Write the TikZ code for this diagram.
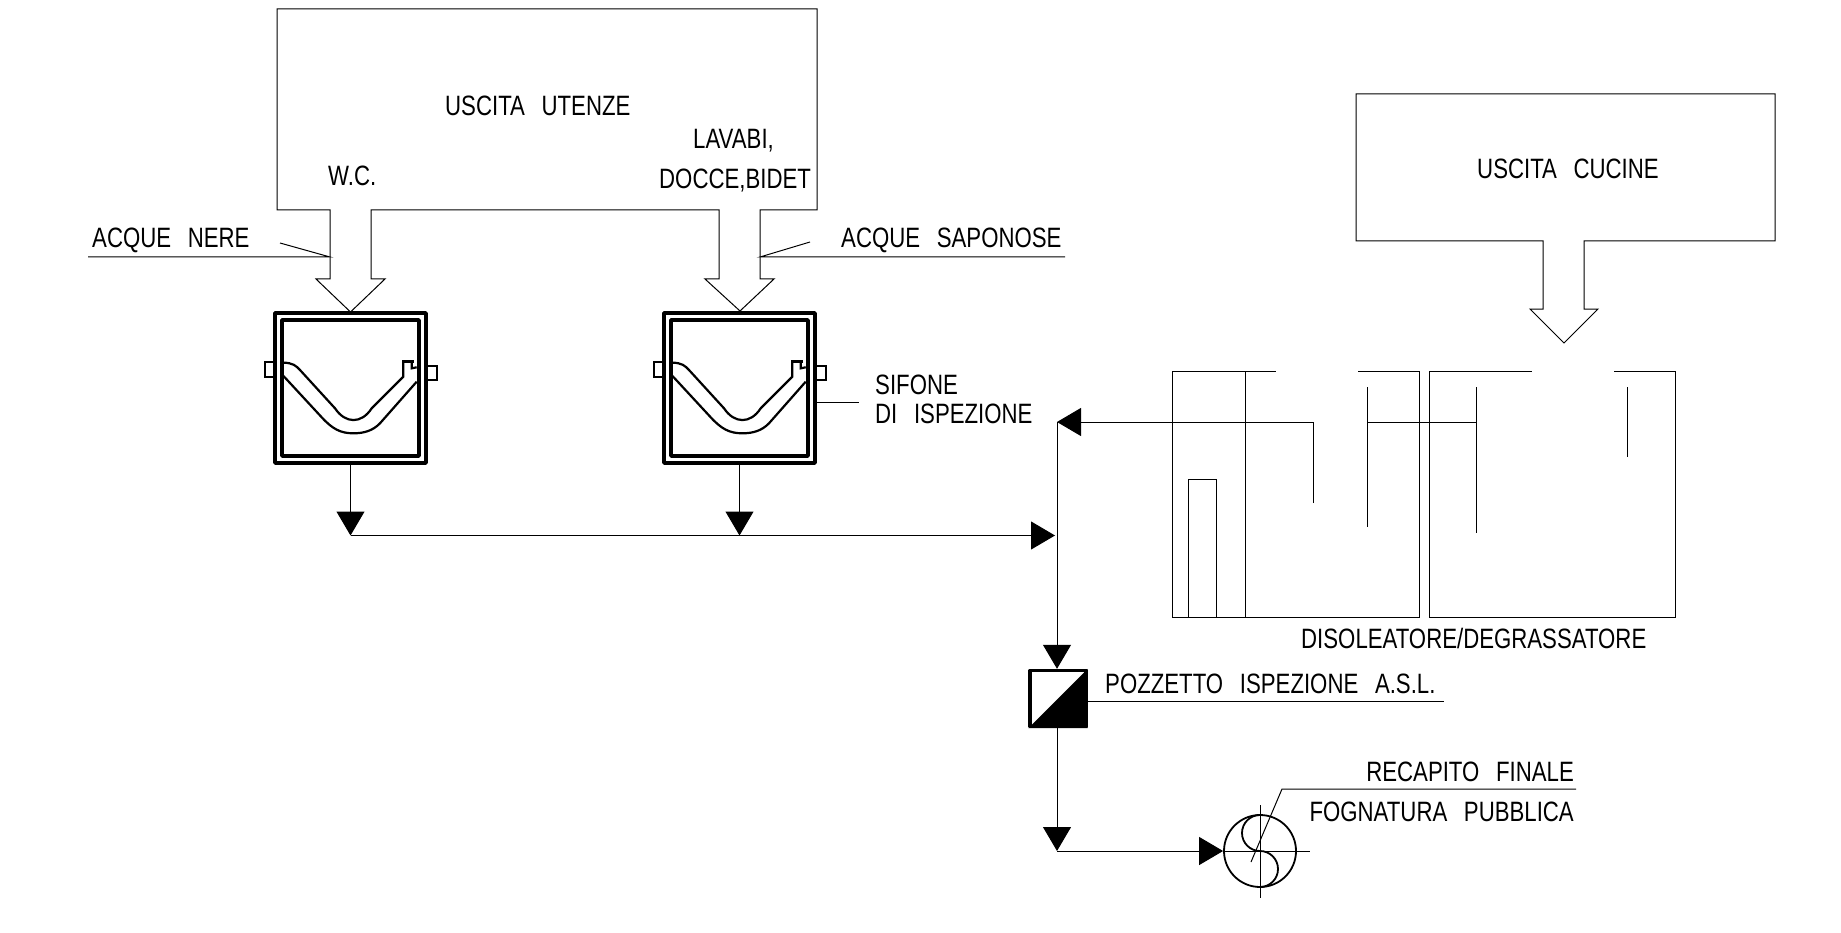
\documentclass[tikz,border=0pt]{standalone}
\usepackage{fontspec}
\setmainfont[FakeStretch=0.793,WordSpace=2.7]{Liberation Sans}
\usetikzlibrary{arrows.meta}

\begin{document}
\begin{tikzpicture}[
    x=1pt, y=-1pt,
    outline/.style={draw=black, line width=1pt, line join=miter},
    tag/.style={anchor=base west, inner sep=0pt, font=\fontsize{28}{28}\selectfont},
    tag right/.style={anchor=base east, inner sep=0pt, font=\fontsize{28}{28}\selectfont},
    flow/.style={draw=black, line width=1pt, -{Triangle[length=24pt, width=28pt]}},
    leader/.style={draw=black, line width=1pt},
    trap/.pic={
        \node[draw, line width=3.5pt, line join=round, minimum width=151pt, minimum height=150pt, inner sep=0pt] (-box) at (0,0) {};
        \draw[line width=3.5pt, line join=round] (-68.5,-68) rectangle (68.5,68);
        \draw[line width=2pt] (-85.5,-26) rectangle (-75.5,-11);
        \draw[line width=2pt] (75.5,-22) rectangle (86.5,-8);
        \draw[line width=2.2pt] (-67,-25.3) .. controls (-58,-25.3) and (-54,-22) .. (-50.5,-18) -- (-15.5,20.3)
            .. controls (-5,36) and (11,36) .. (21.2,20.3) -- (52.8,-11.3) -- (52.8,-25);
        \draw[line width=2.2pt] (-67,-12) -- (-28.8,29.3) .. controls (-18,41) and (-10,45.3) .. (2.8,45.3)
            .. controls (13,45.3) and (22,43) .. (29.5,35.3) -- (66.2,-6.3);
        \draw[line width=3pt] (51.5,-27) -- (63,-27);
        \draw[line width=2.2pt] (61.2,-27) -- (61.2,-19.7) -- (66.2,-20.7);
    }
]
\useasboundingbox (0,0) rectangle (1841,933);

% Outlets
\draw[outline] (330,279) -- (330,210) -- (277,210) -- (277,9) -- (817,9) -- (817,210) -- (760,210) -- (760,279)
    -- (774,279) -- (740,311) -- (705,279) -- (719,279) -- (719,210) -- (371,210) -- (371,279)
    -- (385,279) -- (350.5,312) -- (316,279) -- (330,279) -- cycle;
\draw[outline] (1543,309) -- (1543,241) -- (1356,241) -- (1356,94) -- (1775,94) -- (1775,241) -- (1584,241)
    -- (1584,309) -- (1598,309) -- (1564,343) -- (1530,309) -- cycle;

% Traps
\pic (trapWc) at (350.5,388) {trap};
\pic (trapSink) at (739.5,388) {trap};

% Grease separator
\draw[outline] (1275.6,371) -- (1172.8,371) -- (1172.8,617) -- (1419.4,617) -- (1419.4,371) -- (1357.6,371);
\draw[outline] (1531.6,371) -- (1429.2,371) -- (1429.2,617) -- (1675.4,617) -- (1675.4,371) -- (1613.7,371);
\draw[outline] (1245.4,371) -- (1245.4,617);
\draw[outline] (1188.6,617) -- (1188.6,479) -- (1216.6,479) -- (1216.6,617);
\draw[outline] (1367.8,387) -- (1367.8,527);
\draw[outline] (1367.8,422) -- (1476.6,422);
\draw[outline] (1476.6,387) -- (1476.6,533);
\draw[outline] (1627.4,387) -- (1627.4,457);

% Inspection pit and public sewer
\node[draw, line width=3.4pt, line join=round, minimum size=56pt, inner sep=0pt] (pit) at (1058,698.5) {};
\fill (pit.south west) -- (pit.north east) -- (pit.south east) -- cycle;
\node[draw, circle, line width=1.8pt, minimum size=72pt, inner sep=0pt] (sewer) at (1260,851) {};
\draw[line width=1.8pt] (sewer.center) ++(0,-36) arc[start angle=90, end angle=270, radius=18pt]
    arc[start angle=90, end angle=-90, radius=18pt];
\draw[leader] (sewer.center) ++(-36,0) -- (1310,851);
\draw[leader] (1260,805) -- (1260,898);

% Junctions
\coordinate (jointWc) at (350.5,535.5);
\coordinate (jointSink) at (739.5,535.5);
\coordinate (jointMain) at (1055,535.5);
\coordinate (cornerMain) at (1057,422);
\coordinate (cornerOut) at (1313.8,422);
\coordinate (endOut) at (1313.8,503);
\coordinate (cornerSewer) at (1057,851);

% Flow
\draw[flow] (trapWc-box.south) -- (jointWc);
\draw[flow] (trapSink-box.south) -- (jointSink);
\draw[flow] (jointWc) -- (jointMain);
\draw[flow] (endOut) -- (cornerOut) -- (cornerMain);
\draw[flow] (cornerMain) -- (pit.north -| cornerMain);
\draw[flow] (pit.south -| cornerMain) -- (cornerSewer);
\draw[flow] (cornerSewer) -- (sewer.west);

% Texts
\node[tag] (outUsers) at (445,115.5) {USCITA UTENZE};
\node[tag] (outWc) at (328,186) {W.C.};
\node[tag] (outSink) at (693,149) {LAVABI,};
\node[tag] (outShower) at (659,189) {DOCCE,BIDET};
\node[tag] (outKitchen) at (1477,179) {USCITA CUCINE};
\node[tag] (blackWater) at (92,248) {ACQUE NERE};
\node[tag] (soapWater) at (841,248) {ACQUE SAPONOSE};
\node[tag] (siphon) at (875,394) {SIFONE};
\node[tag] (siphonB) at (875,423) {DI ISPEZIONE};
\node[tag] (separator) at (1301,648) {DISOLEATORE/DEGRASSATORE};
\node[tag] (pitText) at (1105,693) {POZZETTO ISPEZIONE A.S.L.};
\node[tag right] (finalText) at (1574,781) {RECAPITO FINALE};
\node[tag right] (sewerText) at (1574,821) {FOGNATURA PUBBLICA};

% Leaders
\draw[leader] (88,257) -- (330,257) -- (280,243);
\draw[leader] (1065,257) -- (760,257) -- (810,242);
\draw[leader] (816,402) -- (859,402);
\draw[leader] (pit.east |- 0,701) -- (1444,701);
\draw[leader] (1251,862) -- (1282,789) -- (1576,789);

\end{tikzpicture}
\end{document}
